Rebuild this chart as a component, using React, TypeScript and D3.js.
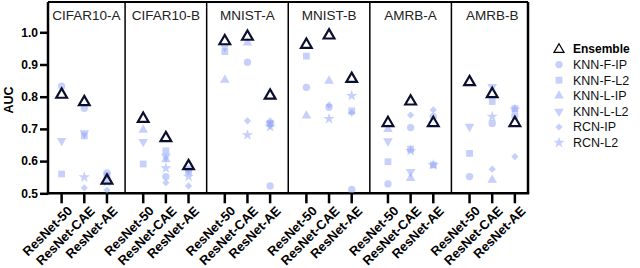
import React, { useRef, useEffect } from "react";
import * as d3 from "d3";

const datasets = ["CIFAR10-A", "CIFAR10-B", "MNIST-A", "MNIST-B", "AMRB-A", "AMRB-B"];
const models = ["ResNet-50", "ResNet-CAE", "ResNet-AE"];
const yTicks = [0.5, 0.6, 0.7, 0.8, 0.9, 1.0];

// values per dataset x model, in order (null = not visible / below 0.5)
const knnFIP = [0.833, 0.764, 0.563, null, 0.552, 0.575, null, 0.907, 0.523, 0.829, 0.767, 0.512, 0.529, 0.704, 0.738, 0.552, 0.717, 0.74];
const knnFL2 = [0.56, 0.678, 0.555, 0.591, 0.632, 0.567, 0.94, null, 0.717, 0.926, null, 0.756, 0.598, 0.637, 0.588, 0.624, 0.785, 0.763];
const knnLIP = [null, null, null, 0.697, 0.605, null, 0.852, 0.968, null, 0.741, 0.849, null, 0.699, 0.547, null, null, 0.541, null];
const knnLL2 = [0.663, 0.687, null, 0.66, 0.614, null, 0.955, null, 0.714, null, null, null, 0.662, 0.567, null, 0.707, 0.831, null];
const rcnIP = [null, 0.517, 0.51, null, 0.533, 0.523, null, 0.725, 0.725, null, 0.774, 0.749, null, 0.743, 0.759, null, 0.575, 0.614];
const rcnL2 = [null, 0.55, 0.535, null, 0.578, 0.552, null, 0.681, 0.707, null, 0.731, 0.803, null, 0.632, 0.588, null, 0.738, 0.761];
const ensemble = [0.808, 0.785, 0.541, 0.733, 0.673, 0.586, 0.974, 0.988, 0.805, 0.963, 0.992, 0.857, 0.72, 0.787, 0.72, 0.847, 0.81, 0.72];

const series = [
  { name: "KNN-F-IP", values: knnFIP, symbol: d3.symbolCircle, size: 42, rotate: 0 },
  { name: "KNN-F-L2", values: knnFL2, symbol: d3.symbolSquare, size: 46, rotate: 0 },
  { name: "KNN-L-IP", values: knnLIP, symbol: d3.symbolTriangle, size: 40, rotate: 0 },
  { name: "KNN-L-L2", values: knnLL2, symbol: d3.symbolTriangle, size: 40, rotate: 180 },
  { name: "RCN-IP", values: rcnIP, symbol: d3.symbolSquare, size: 26, rotate: 45 },
  { name: "RCN-L2", values: rcnL2, symbol: d3.symbolStar, size: 40, rotate: 0 },
];

const FONT = "'Liberation Sans', Arial, Helvetica, sans-serif";
const MARK = "#8ea2f5";
const ENS = "#0b0f2e";

const Chart = ({ width = 640, height = 268 }) => {
  const svgRef = useRef(null);

  useEffect(() => {
    const svg = d3.select(svgRef.current);
    svg.selectAll("*").remove();
    svg.attr("width", width).attr("height", height);

    const left = 48, right = 528, bottom = 193.3;

    const y = d3.scaleLinear().domain([0.5, 1.0]).range([bottom, 32.3]);
    const top = y(1.094);

    // panels, centered on ticks
    const panel = d3.scaleBand().domain(datasets).range([43.5, 533]);
    const bw = panel.bandwidth();
    const inner = d3.scalePoint().domain(models).range([0, bw]).padding(0.8);
    const xPos = (i) => panel(datasets[Math.floor(i / 3)]) + inner(models[i % 3]);

    // frame
    const g = svg.append("g");
    g.append("line").attr("x1", left).attr("x2", right).attr("y1", top).attr("y2", top)
      .attr("stroke", "#000").attr("stroke-width", 2);
    g.append("line").attr("x1", right).attr("x2", right).attr("y1", top).attr("y2", bottom)
      .attr("stroke", "#000").attr("stroke-width", 2.5);
    datasets.slice(1).forEach(d => {
      g.append("line").attr("x1", panel(d)).attr("x2", panel(d)).attr("y1", top).attr("y2", bottom)
        .attr("stroke", "#000").attr("stroke-width", 1.5);
    });

    // panel titles
    datasets.forEach(d => {
      svg.append("text").attr("x", panel(d) + bw / 2 + (d === "CIFAR10-A" ? 2 : 0)).attr("y", 20)
        .attr("text-anchor", "middle").attr("font-family", FONT).attr("font-size", 13.5)
        .attr("fill", "#222").text(d);
    });

    // y axis
    const yAxis = svg.append("g").attr("transform", `translate(${left},0)`)
      .call(d3.axisLeft(y).tickValues(yTicks).tickFormat(d3.format(".1f")).tickSize(8).tickSizeOuter(0));
    yAxis.select(".domain").remove();
    yAxis.selectAll(".tick line").attr("stroke", "#000").attr("stroke-width", 2.5);
    yAxis.selectAll(".tick text").attr("font-family", FONT).attr("font-size", 12)
      .attr("font-weight", "bold").attr("fill", "#000").attr("x", -10);
    svg.append("line").attr("x1", left).attr("x2", left).attr("y1", top).attr("y2", bottom + 1.2)
      .attr("stroke", "#000").attr("stroke-width", 2.5);

    svg.append("text").attr("transform", `translate(13,${y(0.79)}) rotate(-90)`)
      .attr("text-anchor", "middle").attr("font-family", FONT).attr("font-size", 12.5)
      .attr("font-weight", "bold").text("AUC");

    // x axis
    svg.append("line").attr("x1", left).attr("x2", right + 1.2).attr("y1", bottom).attr("y2", bottom)
      .attr("stroke", "#000").attr("stroke-width", 2.5);
    const idx = d3.range(datasets.length * models.length);
    svg.append("g").selectAll("line").data(idx).enter().append("line")
      .attr("x1", xPos).attr("x2", xPos).attr("y1", bottom).attr("y2", bottom + 10)
      .attr("stroke", "#000").attr("stroke-width", 2.5);
    svg.append("g").selectAll("text").data(idx).enter().append("text")
      .attr("transform", i => `translate(${xPos(i) + 5},${bottom + 12}) rotate(-45)`)
      .attr("text-anchor", "end").attr("dy", "0.7em")
      .attr("font-family", FONT).attr("font-size", 13).attr("font-weight", "bold")
      .text(i => models[i % 3]);

    // markers
    const marks = svg.append("g");
    series.forEach(s => {
      const path = d3.symbol().type(s.symbol).size(s.size)();
      marks.append("g").selectAll("path")
        .data(s.values.map((v, i) => ({ v, i })).filter(d => d.v != null))
        .enter().append("path")
        .attr("d", path)
        .attr("transform", d => `translate(${xPos(d.i)},${y(d.v)}) rotate(${s.rotate})`)
        .attr("fill", MARK).attr("fill-opacity", 0.5);
    });
    const tri = d3.symbol().type(d3.symbolTriangle).size(50)();
    marks.append("g").selectAll("path")
      .data(ensemble.map((v, i) => ({ v, i })))
      .enter().append("path")
      .attr("d", tri)
      .attr("transform", d => `translate(${xPos(d.i)},${y(d.v) + 0.5})`)
      .attr("fill", "none").attr("stroke", ENS).attr("stroke-width", 2.2).attr("stroke-linejoin", "miter");

    // legend
    const lg = svg.append("g").attr("transform", "translate(559,49)");
    lg.append("path").attr("d", d3.symbol().type(d3.symbolTriangle).size(44)())
      .attr("transform", "translate(0,0.5)")
      .attr("fill", "none").attr("stroke", "#000").attr("stroke-width", 1.2);
    lg.append("text").attr("x", 14).attr("y", 0).attr("dy", "0.35em")
      .attr("font-family", FONT).attr("font-size", 12).attr("font-weight", "bold").text("Ensemble");
    series.forEach((s, k) => {
      const yy = 15.6 * (k + 1);
      lg.append("path").attr("d", d3.symbol().type(s.symbol).size(s.size)())
        .attr("transform", `translate(0,${yy}) rotate(${s.rotate})`)
        .attr("fill", MARK).attr("fill-opacity", 0.5);
      lg.append("text").attr("x", 14).attr("y", yy).attr("dy", "0.35em")
        .attr("font-family", FONT).attr("font-size", 12.5).attr("fill", "#111").text(s.name);
    });
  }, [width, height]);

  return <svg ref={svgRef} style={{ position: "absolute", left: 0, top: 0 }}></svg>;
};

export default function App() {
  return <Chart />;
}
